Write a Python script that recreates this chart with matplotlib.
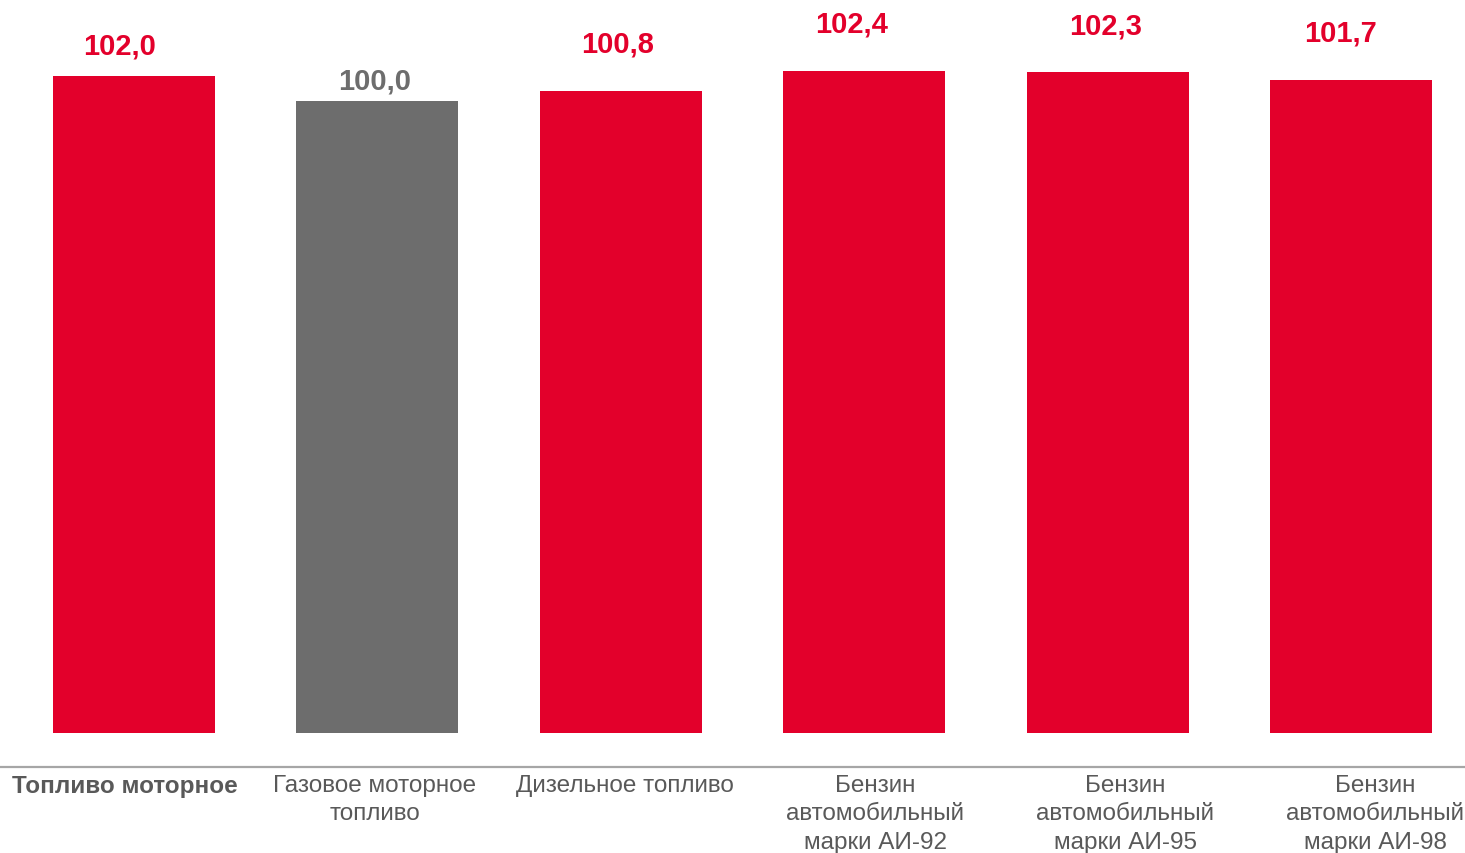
import matplotlib
matplotlib.use("Agg")
import matplotlib.pyplot as plt
import numpy as np

plt.rcParams['font.family'] = ['Liberation Sans', 'DejaVu Sans']

# data
categories = ["Топливо моторное", "Газовое моторное\nтопливо", "Дизельное топливо",
              "Бензин\nавтомобильный\nмарки АИ-92", "Бензин\nавтомобильный\nмарки АИ-95",
              "Бензин\nавтомобильный\nмарки АИ-98"]
values = [102.0, 100.0, 100.8, 102.4, 102.3, 101.7]
value_labels = ["102,0", "100,0", "100,8", "102,4", "102,3", "101,7"]
is_base = [False, True, False, False, False, False]

# style
RED = "#E3002B"
GRAY = "#6D6D6D"
TEXT = "#595959"
BASE = 49.44          # bars start here, not at zero
# label offsets (pixels) relative to bar top centre, as in the original layout
lab_dx = [-14, -3, -3, -13, -2, -11]
lab_dy = [31, 21, 48, 47, 47, 47]

W, H = 1465, 854
fig = plt.figure(figsize=(W / 100, H / 100), dpi=100)
ax = fig.add_axes([0, 1 - 768 / H, 1, 768 / H])

x = np.arange(len(values))
colors = [GRAY if b else RED for b in is_base]
heights = [v - BASE for v in values]
ax.bar(x, heights, bottom=BASE, width=0.666, color=colors)

ax.set_xlim(-134 / 243.4, (W - 134) / 243.4)
ax.set_ylim(46.72, 108.16)
ax.axis("off")

for i, v in enumerate(values):
    ax.annotate(value_labels[i], (x[i], v), xytext=(lab_dx[i], lab_dy[i]),
                textcoords="offset pixels", ha="center", va="center",
                fontsize=21, fontweight="bold", color=colors[i])

# bottom axis line across full width
fig.add_artist(plt.Line2D([0, 1], [1 - 768 / H] * 2, transform=fig.transFigure,
                          color="#A6A6A6", lw=1.6))

# category labels sit on their own, slightly wider grid
for i, c in enumerate(categories):
    fig.text((125 + 250 * i) / W, 1 - 775 / H, c, ha="center", va="top",
             fontsize=17.5, color=TEXT, linespacing=1.38,
             fontweight="bold" if i == 0 else "normal")

fig.savefig("out.png", dpi=100)
